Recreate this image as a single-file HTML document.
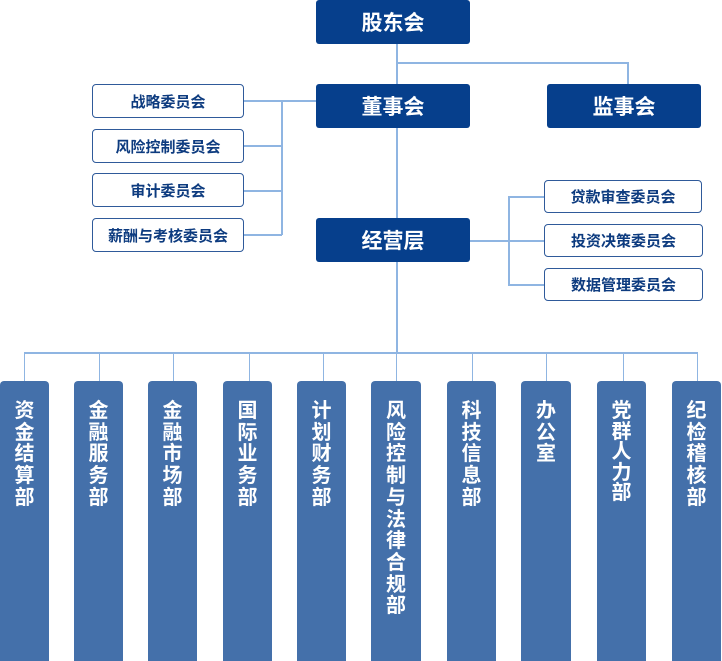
<!DOCTYPE html>
<html><head><meta charset="utf-8"><style>
html,body{margin:0;width:722px;height:661px;background:#fff;position:relative;overflow:hidden;font-family:"Liberation Sans","Noto Sans CJK SC",sans-serif}
.d{position:absolute;background:#063f8c;color:#fff;font-weight:bold;font-size:21px;display:flex;align-items:center;justify-content:center;border-radius:3px;width:154px;height:44px}
.c{position:absolute;border:1.5px solid #2f5a9a;border-radius:4px;color:#0d3b7f;font-weight:bold;font-size:15px;display:flex;align-items:center;justify-content:center;box-sizing:border-box;background:#fff}
.l{position:absolute;background:#8fb5e2}
.b{position:absolute;top:381px;width:49px;height:285px;background:#4470aa;border-radius:4px;color:#fff;font-weight:bold;font-size:20px;line-height:21.7px;text-align:center}
.b span{position:absolute;top:20px;left:0;width:100%;}
</style></head><body>
<div class="l" style="left:396px;top:44px;width:1.5px;height:175px"></div>
<div class="l" style="left:396px;top:62px;width:232px;height:1.5px"></div>
<div class="l" style="left:627px;top:62px;width:1.5px;height:23px"></div>
<div class="l" style="left:243px;top:100px;width:74px;height:1.5px"></div>
<div class="l" style="left:281px;top:100px;width:1.5px;height:135px"></div>
<div class="l" style="left:243px;top:145px;width:39px;height:1.5px"></div>
<div class="l" style="left:243px;top:190px;width:39px;height:1.5px"></div>
<div class="l" style="left:243px;top:234px;width:39px;height:1.5px"></div>
<div class="l" style="left:470px;top:240px;width:75px;height:1.5px"></div>
<div class="l" style="left:508px;top:196px;width:1.5px;height:89px"></div>
<div class="l" style="left:508px;top:196px;width:37px;height:1.5px"></div>
<div class="l" style="left:508px;top:284px;width:37px;height:1.5px"></div>
<div class="l" style="left:396px;top:262px;width:1.5px;height:90px"></div>
<div class="l" style="left:24px;top:352px;width:674px;height:1.5px"></div>
<div class="l" style="left:24px;top:352px;width:1px;height:30px"></div>
<div class="l" style="left:99px;top:352px;width:1px;height:30px"></div>
<div class="l" style="left:173px;top:352px;width:1px;height:30px"></div>
<div class="l" style="left:249px;top:352px;width:1px;height:30px"></div>
<div class="l" style="left:323px;top:352px;width:1px;height:30px"></div>
<div class="l" style="left:396px;top:352px;width:1px;height:30px"></div>
<div class="l" style="left:472px;top:352px;width:1px;height:30px"></div>
<div class="l" style="left:546px;top:352px;width:1px;height:30px"></div>
<div class="l" style="left:623px;top:352px;width:1px;height:30px"></div>
<div class="l" style="left:697px;top:352px;width:1px;height:30px"></div>

<div class="d" style="left:316px;top:0">股东会</div>
<div class="d" style="left:316px;top:84px">董事会</div>
<div class="d" style="left:547px;top:84px">监事会</div>
<div class="d" style="left:316px;top:218px">经营层</div>

<div class="c" style="left:92px;top:84px;width:152px;height:34px">战略委员会</div>
<div class="c" style="left:92px;top:129px;width:152px;height:34px">风险控制委员会</div>
<div class="c" style="left:92px;top:173px;width:152px;height:34px">审计委员会</div>
<div class="c" style="left:92px;top:218px;width:152px;height:34px">薪酬与考核委员会</div>
<div class="c" style="left:544px;top:180px;width:158px;height:33px">贷款审查委员会</div>
<div class="c" style="left:544px;top:224px;width:159px;height:33px">投资决策委员会</div>
<div class="c" style="left:544px;top:268px;width:159px;height:33px">数据管理委员会</div>

<div class="b" style="left:0"><span>资<br>金<br>结<br>算<br>部</span></div>
<div class="b" style="left:74px"><span>金<br>融<br>服<br>务<br>部</span></div>
<div class="b" style="left:148px"><span>金<br>融<br>市<br>场<br>部</span></div>
<div class="b" style="left:223px"><span>国<br>际<br>业<br>务<br>部</span></div>
<div class="b" style="left:297px"><span>计<br>划<br>财<br>务<br>部</span></div>
<div class="b" style="left:371px;width:50px"><span>风<br>险<br>控<br>制<br>与<br>法<br>律<br>合<br>规<br>部</span></div>
<div class="b" style="left:447px"><span>科<br>技<br>信<br>息<br>部</span></div>
<div class="b" style="left:521px;width:50px"><span>办<br>公<br>室</span></div>
<div class="b" style="left:597px"><span style="line-height:20.5px">党<br>群<br>人<br>力<br>部</span></div>
<div class="b" style="left:672px"><span>纪<br>检<br>稽<br>核<br>部</span></div>
</body></html>
